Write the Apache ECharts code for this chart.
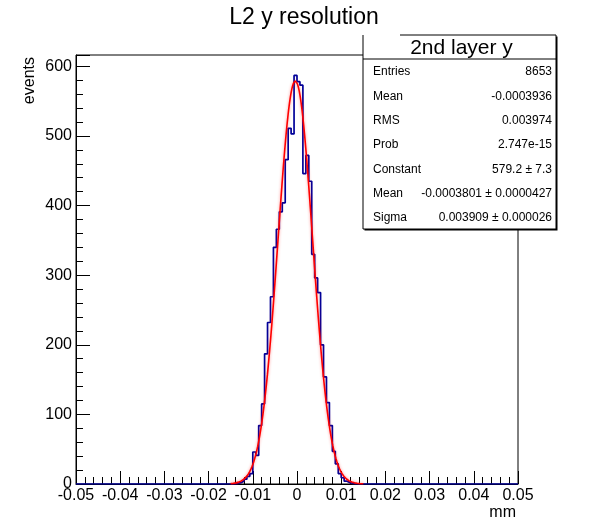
<!DOCTYPE html>
<html>
<head>
<meta charset="utf-8">
<script src="https://cdn.jsdelivr.net/npm/echarts@6/dist/echarts.min.js"></script>
<style>
  html, body { margin: 0; padding: 0; background: #fff; }
  #chart { width: 590px; height: 519px; }
</style>
</head>
<body>
<div id="chart"></div>
<script>
// L2 y residuals: 150 equal bins between -0.05 and 0.05 mm
const xMin = -0.05;
const xMax = 0.05;
const nBins = 150;
const firstFilledBin = 54;
const counts = [1, 2, 4, 7, 11, 15, 46, 41, 84, 115, 187, 232, 269, 340, 366, 391, 404,
                466, 511, 503, 587, 578, 573, 446, 472, 435, 330, 296, 275, 200, 154,
                117, 84, 47, 29, 15, 9, 4, 2, 1];

const xTickLabels = ['-0.05', '-0.04', '-0.03', '-0.02', '-0.01', '0',
                     '0.01', '0.02', '0.03', '0.04', '0.05'];
const yTickLabels = ['0', '100', '200', '300', '400', '500', '600'];

// Gaussian fit result
const fitConstant = 579.2;
const fitMean = -0.0003801;
const fitSigma = 0.003909;
const fitRange = [-0.015, 0.015];

// Statistics box
const statTitle = '2nd layer y';
const statNames = ['Entries', 'Mean', 'RMS', 'Prob', 'Constant', 'Mean', 'Sigma'];
const statValues = ['8653', '-0.0003936', '0.003974', '2.747e-15',
                    '579.2 \u00b1 7.3', '-0.0003801 \u00b1 0.0000427', '0.003909 \u00b1 0.000026'];

const FONT = '"Liberation Sans", Arial, Helvetica, sans-serif';

// step outline: one point per lower bin edge, closed at the upper edge
const binWidth = (xMax - xMin) / nBins;
const histPoints = [];
for (let i = 0; i < nBins; i++) {
  const k = i - firstFilledBin;
  const c = (k >= 0 && k < counts.length) ? counts[k] : 0;
  histPoints.push([xMin + i * binWidth, c]);
}
histPoints.push([xMax, 0]);

const yMax = 1.05 * Math.max(...counts);

// fitted Gaussian sampled across the fit range
const fitPoints = [];
const nFit = 300;
for (let i = 0; i <= nFit; i++) {
  const x = fitRange[0] + (fitRange[1] - fitRange[0]) * i / nFit;
  const z = (x - fitMean) / fitSigma;
  fitPoints.push([x, fitConstant * Math.exp(-0.5 * z * z)]);
}

const chart = echarts.init(document.getElementById('chart'), null, { renderer: 'canvas' });

const gridL = 76, gridR = 518, gridT = 55, gridB = 484;

// stats pave: title strip on top, one row per entry below
const statX0 = 363, statX1 = 556, statY0 = 35, statY1 = 229, statSep = 59, statTitleX0 = 400;
const ln = (x1, y1, x2, y2) => ({ type: 'line', z: 12, shape: { x1, y1, x2, y2 },
                                  style: { stroke: '#000', lineWidth: 1 } });
const statGraphics = [
  { type: 'rect', shape: { x: statX0 + 1.5, y: statY0 + 1.5, width: statX1 - statX0, height: statY1 - statY0 },
    style: { fill: '#000' }, z: 10 },
  { type: 'rect', shape: { x: statX0, y: statY0, width: statX1 - statX0, height: statY1 - statY0 },
    style: { fill: '#fff' }, z: 11 },
  ln(statX0, statY0, statX0, statY1),
  ln(statX0, statY1, statX1, statY1),
  ln(statX1, statY0, statX1, statY1),
  ln(statTitleX0, statY0, statX1, statY0),
  ln(statX0, statSep, statX1, statSep),
  { type: 'text', x: (statX0 + statX1) / 2 + 2, y: (statY0 + statSep) / 2 + 1, z: 12,
    style: { text: statTitle, font: '21px ' + FONT, fill: '#000', align: 'center', verticalAlign: 'middle' } }
];
const rowStep = (statY1 - statSep) / statNames.length;
statNames.forEach((name, i) => {
  const y = statSep + rowStep * (i + 0.5) + 1;
  statGraphics.push({ type: 'text', x: statX0 + 10, y: y, z: 12,
    style: { text: name, font: '12px ' + FONT, fill: '#000', align: 'left', verticalAlign: 'middle' } });
  statGraphics.push({ type: 'text', x: statX1 - 4, y: y, z: 12,
    style: { text: statValues[i], font: '12px ' + FONT, fill: '#000', align: 'right', verticalAlign: 'middle' } });
});

const option = {
  animation: false,
  backgroundColor: '#fff',
  grid: {
    left: gridL, right: 590 - gridR, top: gridT, bottom: 519 - gridB,
    show: true, borderColor: '#000', borderWidth: 1, backgroundColor: 'transparent'
  },
  xAxis: {
    type: 'value', min: xMin, max: xMax, interval: 0.01,
    axisLine: { show: true, onZero: false, lineStyle: { color: '#000', width: 1 } },
    axisTick: { show: true, inside: true, length: 13, lineStyle: { color: '#000' } },
    minorTick: { show: true, splitNumber: 5, length: 7, lineStyle: { color: '#000' } },
    splitLine: { show: false },
    axisLabel: {
      margin: 4, fontSize: 16, fontFamily: FONT, color: '#000',
      formatter: v => {
        const idx = Math.round((v - xMin) / 0.01);
        return Math.abs(xMin + idx * 0.01 - v) < 1e-9 ? xTickLabels[idx] : '';
      }
    }
  },
  yAxis: {
    type: 'value', min: 0, max: yMax, interval: 100,
    axisLine: { show: true, onZero: false, lineStyle: { color: '#000', width: 1 } },
    axisTick: { show: true, inside: true, length: 14, lineStyle: { color: '#000' } },
    minorTick: { show: true, splitNumber: 5, length: 7, lineStyle: { color: '#000' } },
    splitLine: { show: false },
    axisLabel: {
      margin: 4, fontSize: 16, fontFamily: FONT, color: '#000', showMaxLabel: false,
      formatter: v => {
        const idx = Math.round(v / 100);
        return Math.abs(idx * 100 - v) < 1e-6 && idx < yTickLabels.length ? yTickLabels[idx] : '';
      }
    }
  },
  series: [
    {
      name: 'histogram', type: 'line', step: 'end', data: histPoints,
      symbol: 'none', clip: true, z: 3,
      lineStyle: { color: '#000099', width: 1.7 }
    },
    {
      name: 'gaus', type: 'line', data: fitPoints, smooth: false,
      symbol: 'none', clip: true, z: 4,
      lineStyle: { color: '#ff0000', width: 1.6, shadowColor: 'rgba(255,0,0,0.45)', shadowBlur: 3 }
    }
  ],
  graphic: [
    { type: 'text', x: 304, y: 18,
      style: { text: 'L2 y resolution', font: '23px ' + FONT, fill: '#000', align: 'center', verticalAlign: 'middle' } },
    { type: 'text', x: 30, y: 57, rotation: Math.PI / 2,
      style: { text: 'events', font: '16px ' + FONT, fill: '#000', align: 'right', verticalAlign: 'middle' } },
    { type: 'text', x: 516, y: 513,
      style: { text: 'mm', font: '16px ' + FONT, fill: '#000', align: 'right', verticalAlign: 'middle' } }
  ].concat(statGraphics)
};

chart.setOption(option);
</script>
</body>
</html>
